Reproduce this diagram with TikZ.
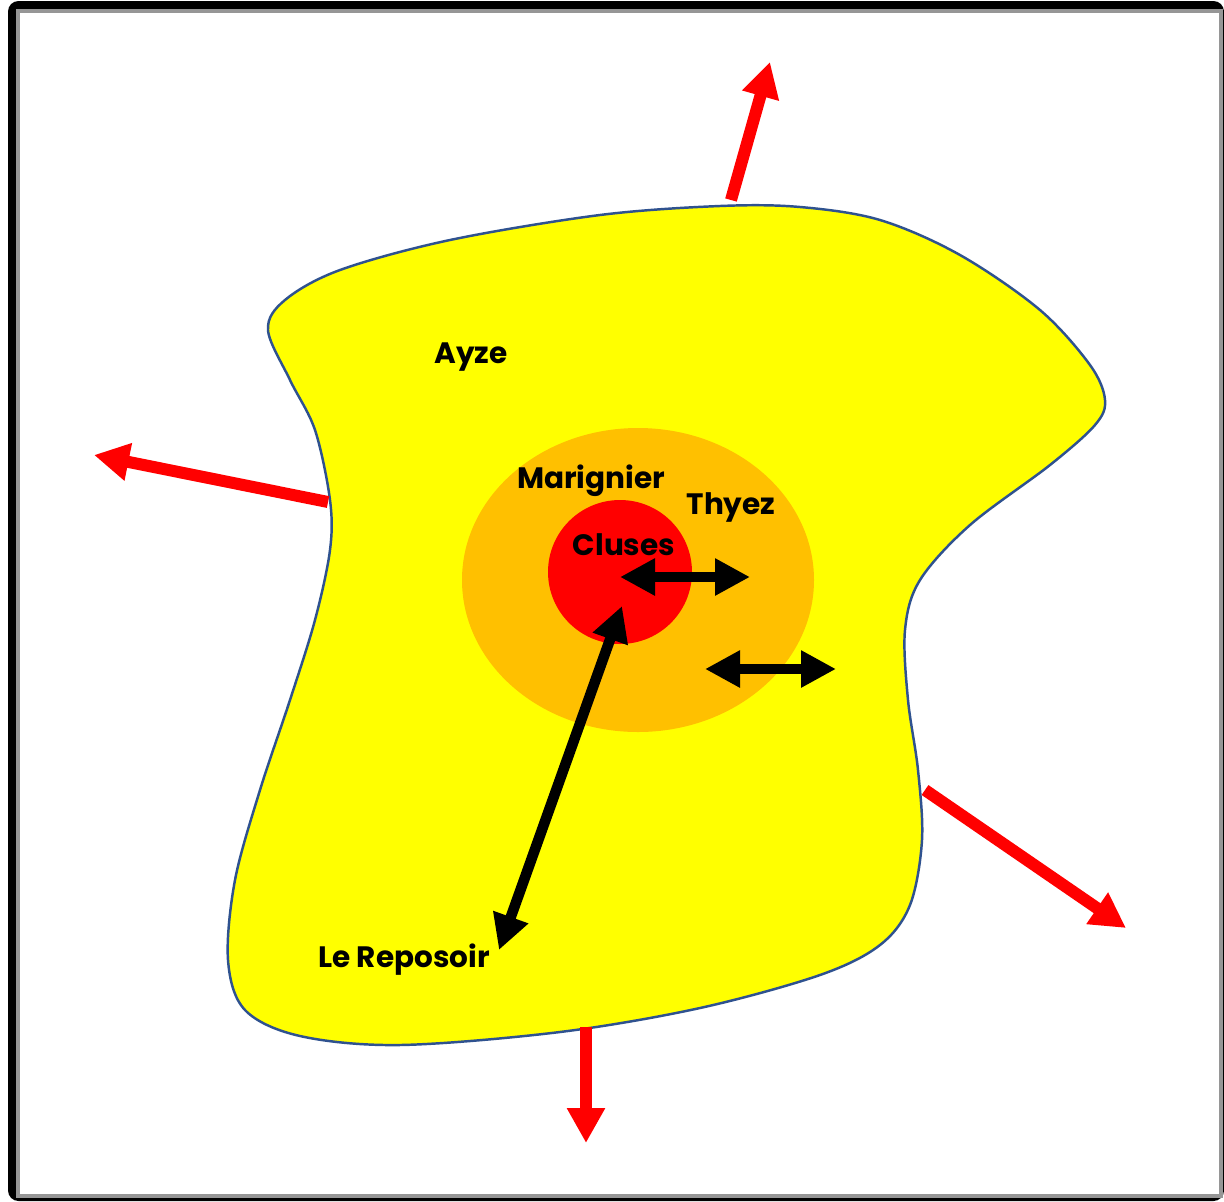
\documentclass[tikz,border=0pt]{standalone}
\usepackage{fontspec}
\setmainfont{Poppins}
\usetikzlibrary{arrows.meta}
\definecolor{frontier}{RGB}{47,82,143}
\definecolor{commune}{RGB}{255,255,0}
\definecolor{agglo}{RGB}{255,192,0}
\definecolor{centre}{RGB}{255,0,0}
\definecolor{frame}{RGB}{150,150,150}

\begin{document}
\begin{tikzpicture}[
  x=0.02cm, y=-0.02cm,
  font=\fontsize{16.8}{20}\selectfont\bfseries,
  town/.style={inner sep=0pt, text=black},
  flux/.style={line width=0.24cm, centre, -{Triangle[length=0.7cm, width=0.72cm]}},
  echange/.style={line width=0.21cm, black,
                  {Triangle[length=0.7cm, width=0.7cm]}-{Triangle[length=0.7cm, width=0.7cm]}}]

  % frame
  \useasboundingbox (0,0) rectangle (1224,1201);
  \fill[black, rounded corners=6pt] (8,1) rectangle (1224,1201);
  \filldraw[fill=white, draw=frame, line width=2.2pt] (18,11) rectangle (1221,1196);

  % valley
  \filldraw[fill=commune, draw=frontier, line width=1.4pt]
    plot[smooth cycle, tension=0.55] coordinates {
      (285,300) (340,270) (450,240) (600,215) (720,206) (800,207) (880,220)
      (960,255) (1040,310) (1090,365) (1105,400) (1095,425) (1050,465)
      (970,525) (920,580) (905,630) (908,700) (918,770) (922,840) (910,905)
      (880,945) (820,975) (700,1008) (560,1032) (400,1045) (300,1036)
      (245,1010) (228,960) (235,880) (260,790) (290,700) (315,620) (330,550)
      (330,500) (315,430) (290,380) (268,330)};
  \fill[agglo] (638,580) ellipse [x radius=176, y radius=152];
  \fill[centre] (620,572) circle [radius=72];

  % towns
  \node[town] (ayze)     at (471,357) {Ayze};
  \node[town] (marignier) at (591,481) {Marignier};
  \node[town] (thyez)    at (731,507) {Thyez};
  \node[town] (cluses)   at (624,545) {Cluses};
  \node[town] (reposoir) at (404,960) {Le Reposoir};

  % outgoing flows
  \coordinate (n0) at (731,200);  \coordinate (n1) at (770,62);
  \coordinate (w0) at (328,502);  \coordinate (w1) at (94,455);
  \coordinate (e0) at (925,790);  \coordinate (e1) at (1126,928);
  \coordinate (s0) at (586,1027); \coordinate (s1) at (586,1143);
  \draw[flux] (n0) -- (n1);
  \draw[flux] (w0) -- (w1);
  \draw[flux] (e0) -- (e1);
  \draw[flux] (s0) -- (s1);

  % exchanges
  \coordinate (c0) at (620,577);  \coordinate (t0) at (750,577);
  \coordinate (m0) at (705,669);  \coordinate (m1) at (836,669);
  \coordinate (c1) at (622,606);  \coordinate (r0) at (499,950);
  \draw[echange] (c0) -- (t0);
  \draw[echange] (m0) -- (m1);
  \draw[echange] (c1) -- (r0);
\end{tikzpicture}
\end{document}
